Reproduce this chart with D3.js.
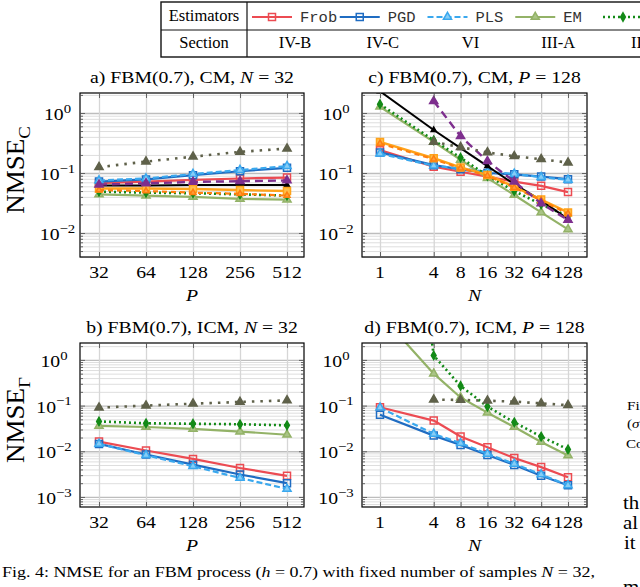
<!DOCTYPE html>
<html>
<head>
<meta charset="utf-8">
<script src="https://cdn.jsdelivr.net/npm/d3@7/dist/d3.min.js"></script>
<style>
  body { margin: 0; background: #fff; }
  svg { display: block; }
</style>
</head>
<body>
<div id="chart"></div>
<script>
// ---------------------------------------------------------------------------
// DATA
// ---------------------------------------------------------------------------
const pVals  = [32, 64, 128, 256, 512];
const nVals  = [1, 4, 8, 16, 32, 64, 128];
const nValsD = [1, 2, 4, 8, 16, 32, 64, 128];

// a) FBM(0.7), CM, N = 32   (x = P)
const frobA   = [0.068, 0.072, 0.077, 0.081, 0.084];
const pgdA    = [0.072, 0.078, 0.092, 0.107, 0.122];
const plsA    = [0.075, 0.081, 0.096, 0.112, 0.130];
const emA     = [0.044, 0.042, 0.040, 0.037, 0.036];
const diagA   = [0.049, 0.047, 0.046, 0.044, 0.042];
const blackA  = [0.062, 0.062, 0.063, 0.063, 0.063];
const orangeA = [0.055, 0.055, 0.054, 0.052, 0.050];
const orDashA = [0.052, 0.050, 0.047, 0.045, 0.042];
const purpleA = [0.064, 0.067, 0.071, 0.073, 0.075];
const oliveA  = [0.125, 0.155, 0.187, 0.225, 0.255];

// c) FBM(0.7), CM, P = 128   (x = N)
const frobC   = [0.24, 0.127, 0.105, 0.087, 0.072, 0.061, 0.048];
const pgdC    = [0.22, 0.135, 0.115, 0.100, 0.095, 0.087, 0.079];
const plsC    = [0.21, 0.132, 0.120, 0.104, 0.097, 0.085, 0.077];
const emC     = [1.27, 0.33, 0.166, 0.082, 0.043, 0.022, 0.0115];
const diagC   = [1.40, 0.35, 0.18, 0.090, 0.050, 0.030, 0.019];
const blackC  = [2.3, 0.52, 0.26, 0.13, 0.065, 0.035, 0.017];
const orangeC = [0.33, 0.176, 0.124, 0.093, 0.059, 0.036, 0.022];
const orDashC = [0.31, 0.170, 0.120, 0.090, 0.057, 0.035, 0.021];
const purpleC = [null, 1.57, 0.41, 0.157, 0.072, 0.031, 0.0165];
const oliveC  = [null, 0.33, 0.27, 0.22, 0.19, 0.17, 0.149];

// b) FBM(0.7), ICM, N = 32   (x = P)
const frobB   = [0.0163, 0.0104, 0.0068, 0.0043, 0.0029];
const pgdB    = [0.0145, 0.0085, 0.0051, 0.0031, 0.0020];
const plsB    = [0.0145, 0.0082, 0.0047, 0.0026, 0.0015];
const emB     = [0.036, 0.034, 0.031, 0.027, 0.023];
const diagB   = [0.045, 0.041, 0.040, 0.039, 0.037];
const oliveB  = [0.090, 0.100, 0.110, 0.120, 0.130];

// d) FBM(0.7), ICM, P = 128   (x = N, N = 2 only reached by the steep curves)
const frobD   = [0.092, null, 0.047, 0.021, 0.0123, 0.0071, 0.0045, 0.0027];
const pgdD    = [0.063, null, 0.022, 0.0138, 0.0083, 0.0050, 0.0029, 0.0018];
const plsD    = [0.090, null, 0.024, 0.015, 0.0088, 0.0053, 0.0031, 0.0018];
const emD     = [10, null, 0.50, 0.15, 0.070, 0.034, 0.016, 0.0081];
const diagD   = [null, 30000, 1.25, 0.27, 0.095, 0.043, 0.021, 0.011];
const oliveD  = [null, null, 0.135, 0.133, 0.128, 0.122, 0.112, 0.102];

// legend table
const legendNames = ["Frob", "PGD", "PLS", "EM"];
const legendKeys  = ["frob", "pgd", "pls", "em", "diag"];
const sections    = ["IV-B", "IV-C", "VI", "III-A", "II"];

// ---------------------------------------------------------------------------
// STYLES
// ---------------------------------------------------------------------------
const style = {
  frob:   { color: "#ec4b52", dash: null,    lw: 2.2, mark: "square",   fill: "none",    size: 7 },
  pgd:    { color: "#1f6cc2", dash: null,    lw: 2.2, mark: "square",   fill: "none",    size: 7 },
  pls:    { color: "#3aa8ee", dash: "6,3",   lw: 2.2, mark: "triangle", fill: "#86cdf6", size: 8 },
  em:     { color: "#93b267", dash: null,    lw: 2.2, mark: "triangle", fill: "#a9c485", size: 8 },
  diag:   { color: "#138a17", dash: "2,3",   lw: 2.6, mark: "diamond",  fill: "#138a17", size: 6 },
  black:  { color: "#000000", dash: null,    lw: 2.0, mark: "triangle", fill: "#000",    size: 5 },
  orange: { color: "#ffa31a", dash: null,    lw: 2.4, mark: "square",   fill: "#ffc04d", size: 7 },
  orDash: { color: "#ff7f0e", dash: "5,4",   lw: 2.2, mark: "triangle", fill: "#ff9d3c", size: 6 },
  purple: { color: "#7e2f8e", dash: "8,5",   lw: 2.4, mark: "triangle", fill: "#7e2f8e", size: 8 },
  olive:  { color: "#5f614a", dash: "2.5,6", lw: 2.6, mark: "triangle", fill: "#5f614a", size: 8 }
};

const SERIF = "'Liberation Serif', 'DejaVu Serif', serif";
const MONO  = "'Liberation Mono', 'DejaVu Sans Mono', monospace";
const SX = 1.16; // the picture is a little wider than tall

const W = 640, H = 587;
const svg = d3.select("#chart").append("svg")
  .attr("width", W).attr("height", H)
  .attr("viewBox", `0 0 ${W} ${H}`);
svg.append("rect").attr("width", W).attr("height", H).attr("fill", "#fff");

// text helper: parts are strings or [text, "it" | "sup" | "sub"]
function stext(parent, x, y, size, anchor, parts, opts = {}) {
  const sx = opts.sx == null ? SX : opts.sx;
  const rot = opts.rotate ? ` rotate(${opts.rotate})` : "";
  const g = parent.append("g").attr("transform", `translate(${x},${y}) scale(${sx},1)${rot}`);
  const t = g.append("text")
    .attr("font-family", opts.family || SERIF)
    .attr("font-size", size)
    .attr("text-anchor", anchor)
    .attr("fill", opts.color || "#000");
  const small = opts.small || 0.7;
  parts.forEach(pt => {
    const [s, k] = typeof pt === "string" ? [pt, ""] : pt;
    const ts = t.append("tspan").text(s);
    if (k === "it") ts.attr("font-style", "italic");
    if (k === "sup") ts.attr("font-size", size * small).attr("dy", -size * 0.42);
    if (k === "sub") ts.attr("font-size", size * small).attr("dy", size * 0.25);
  });
  return t;
}

function symbolFor(s) {
  const type = s.mark === "square" ? d3.symbolSquare
    : s.mark === "diamond" ? d3.symbolDiamond : d3.symbolTriangle;
  const area = s.mark === "triangle" ? s.size * s.size * 0.45
    : s.mark === "diamond" ? s.size * s.size * 0.55 : s.size * s.size;
  return d3.symbol().type(type).size(area)();
}

let clipId = 0;
function drawPanel(p) {
  const { L, R, T, B } = p;
  const g = svg.append("g");

  const x = d3.scaleLog().base(2)
    .domain([p.xVals[0], p.xVals[p.xVals.length - 1]])
    .range([L + p.padL, R - p.padR]);
  const y = d3.scaleLog().domain(p.yDomain).range([B, T]);

  const e0 = Math.floor(Math.log10(p.yDomain[0])), e1 = Math.ceil(Math.log10(p.yDomain[1]));
  const minors = [], majors = [];
  for (let e = e0; e <= e1; e++) {
    for (let m = 1; m <= 9; m++) {
      const v = m * Math.pow(10, e);
      if (v < p.yDomain[0] || v > p.yDomain[1]) continue;
      (m === 1 ? majors : minors).push(v);
    }
  }

  // grid
  const gridStyle = (sel, col, w) => {
    sel.select(".domain").remove();
    sel.selectAll("line").attr("stroke", col).attr("stroke-width", w);
  };
  g.append("g").attr("transform", `translate(${L},0)`)
    .call(d3.axisLeft(y).tickValues(minors).tickSize(-(R - L)).tickFormat(""))
    .call(s => gridStyle(s, "#dedede", 1));
  g.append("g").attr("transform", `translate(${L},0)`)
    .call(d3.axisLeft(y).tickValues(majors).tickSize(-(R - L)).tickFormat(""))
    .call(s => gridStyle(s, "#bdbdbd", 1.3));
  g.append("g").attr("transform", `translate(0,${B})`)
    .call(d3.axisBottom(x).tickValues(p.xTicks).tickSize(-(B - T)).tickFormat(""))
    .call(s => gridStyle(s, "#d6d6d6", 1.3));

  // series
  const cid = "clip" + (clipId++);
  g.append("clipPath").attr("id", cid)
    .append("rect").attr("x", L).attr("y", T).attr("width", R - L).attr("height", B - T);
  const plot = g.append("g").attr("clip-path", `url(#${cid})`);

  p.series.forEach(([key, vals]) => {
    const s = style[key];
    const pts = vals.map((v, i) => ({ x: p.xVals[i], v })).filter(d => d.v != null);
    plot.append("path")
      .datum(pts)
      .attr("fill", "none")
      .attr("stroke", s.color)
      .attr("stroke-width", s.lw)
      .attr("stroke-dasharray", s.dash)
      .attr("stroke-linejoin", "round")
      .attr("d", d3.line().x(d => x(d.x)).y(d => y(d.v)));
    plot.selectAll(null).data(pts).enter().append("path")
      .attr("transform", d => `translate(${x(d.x)},${y(d.v)})`)
      .attr("d", symbolFor(s))
      .attr("fill", s.fill)
      .attr("stroke", s.color)
      .attr("stroke-width", 1.5);
  });

  // frame + inward ticks
  g.append("rect").attr("x", L).attr("y", T).attr("width", R - L).attr("height", B - T)
    .attr("fill", "none").attr("stroke", "#000").attr("stroke-width", 1.2);
  const tickStyle = sel => {
    sel.select(".domain").remove();
    sel.selectAll("line").attr("stroke", "#555").attr("stroke-width", 0.9);
  };
  g.append("g").attr("transform", `translate(${L},0)`)
    .call(d3.axisLeft(y).tickValues(minors).tickSize(-3).tickFormat("")).call(tickStyle);
  g.append("g").attr("transform", `translate(${L},0)`)
    .call(d3.axisLeft(y).tickValues(majors).tickSize(-5).tickFormat("")).call(tickStyle);
  g.append("g").attr("transform", `translate(${R},0)`)
    .call(d3.axisRight(y).tickValues(minors).tickSize(-3).tickFormat("")).call(tickStyle);
  g.append("g").attr("transform", `translate(${R},0)`)
    .call(d3.axisRight(y).tickValues(majors).tickSize(-5).tickFormat("")).call(tickStyle);
  g.append("g").attr("transform", `translate(0,${B})`)
    .call(d3.axisBottom(x).tickValues(p.xTicks).tickSize(-5).tickFormat("")).call(tickStyle);
  g.append("g").attr("transform", `translate(0,${T})`)
    .call(d3.axisTop(x).tickValues(p.xTicks).tickSize(-5).tickFormat("")).call(tickStyle);

  // tick labels
  p.xTicks.forEach(v => stext(g, x(v), B + 21, 17, "middle", [String(v)]));
  majors.forEach(v => {
    const e = Math.round(Math.log10(v));
    stext(g, L - p.yLabOff, y(v) + 7, 17, "middle",
      ["10", [e < 0 ? "\u2212" + (-e) : String(e), "sup"]], { small: 0.75 });
  });

  // title and axis labels
  stext(g, (L + R) / 2, T - 10, 17, "middle", p.title);
  stext(g, (L + R) / 2, B + 44, 17, "middle", [[p.xLabel, "it"]]);
  if (p.yLabel) {
    stext(g, 24, (T + B) / 2 - 5, 27, "middle", p.yLabel, { rotate: -90, sx: 0.9 });
  }
}

const topY = [Math.pow(10, -2.4), Math.pow(10, 0.333)];
const botY = [Math.pow(10, -3.22), Math.pow(10, 0.37)];

drawPanel({
  L: 80, R: 304, T: 93, B: 257, padL: 19, padR: 17, yLabOff: 22.5,
  xVals: pVals, xTicks: pVals, yDomain: topY,
  title: ["a) FBM(0.7), CM, ", ["N", "it"], " = 32"],
  xLabel: "P", yLabel: ["NMSE", ["C", "sub"]],
  series: [["frob", frobA], ["pgd", pgdA], ["pls", plsA], ["em", emA], ["diag", diagA],
           ["black", blackA], ["orange", orangeA], ["orDash", orDashA],
           ["purple", purpleA], ["olive", oliveA]]
});
drawPanel({
  L: 362, R: 587, T: 93, B: 257, padL: 18, padR: 19, yLabOff: 26,
  xVals: nVals, xTicks: nVals, yDomain: topY,
  title: ["c) FBM(0.7), CM, ", ["P", "it"], " = 128"],
  xLabel: "N",
  series: [["frob", frobC], ["pgd", pgdC], ["pls", plsC], ["em", emC], ["diag", diagC],
           ["black", blackC], ["orange", orangeC], ["orDash", orDashC],
           ["purple", purpleC], ["olive", oliveC]]
});
drawPanel({
  L: 80, R: 304, T: 343, B: 507, padL: 19, padR: 17, yLabOff: 26,
  xVals: pVals, xTicks: pVals, yDomain: botY,
  title: ["b) FBM(0.7), ICM, ", ["N", "it"], " = 32"],
  xLabel: "P", yLabel: ["NMSE", ["\u0393", "sub"]],
  series: [["frob", frobB], ["pgd", pgdB], ["pls", plsB], ["em", emB], ["diag", diagB],
           ["olive", oliveB]]
});
drawPanel({
  L: 362, R: 587, T: 343, B: 507, padL: 18, padR: 19, yLabOff: 26,
  xVals: nValsD, xTicks: nVals, yDomain: botY,
  title: ["d) FBM(0.7), ICM, ", ["P", "it"], " = 128"],
  xLabel: "N",
  series: [["frob", frobD], ["pgd", pgdD], ["pls", plsD], ["em", emD], ["diag", diagD],
           ["olive", oliveD]]
});

// ---------------------------------------------------------------------------
// Legend table (cut by the right edge of the picture)
// ---------------------------------------------------------------------------
const leg = svg.append("g");
leg.append("rect").attr("x", 161).attr("y", 2).attr("width", 520).attr("height", 55)
  .attr("fill", "#fff").attr("stroke", "#111").attr("stroke-width", 1.4);
leg.append("line").attr("x1", 247).attr("x2", 247).attr("y1", 2).attr("y2", 57)
  .attr("stroke", "#111").attr("stroke-width", 1.2);
leg.append("line").attr("x1", 161).attr("x2", 681).attr("y1", 30).attr("y2", 30)
  .attr("stroke", "#111").attr("stroke-width", 1);
stext(leg, 204, 21, 16.5, "middle", ["Estimators"], { sx: 1 });
stext(leg, 204, 48, 16.5, "middle", ["Section"], { sx: 1 });

const legX = d3.scalePoint().domain(legendKeys).range([272, 623]);
legendKeys.forEach((k, i) => {
  const s = style[k], cx = legX(k);
  leg.append("line").attr("x1", cx - 20).attr("x2", cx + 20).attr("y1", 17).attr("y2", 17)
    .attr("stroke", s.color).attr("stroke-width", s.lw).attr("stroke-dasharray", s.dash);
  leg.append("path").attr("transform", `translate(${cx},17)`).attr("d", symbolFor(s))
    .attr("fill", s.fill).attr("stroke", s.color).attr("stroke-width", 1.5);
  if (legendNames[i]) stext(leg, cx + 28, 22, 15.5, "start", [legendNames[i]], { sx: 1, family: MONO, color: "#333" });
  if (i < 4) stext(leg, cx + 23, 48, 16.5, "middle", [sections[i]], { sx: 1 });
  else stext(leg, 631, 48, 16.5, "start", [sections[i]], { sx: 1 });
});

// ---------------------------------------------------------------------------
// Caption and the edge of the neighbouring column
// ---------------------------------------------------------------------------
stext(svg, 2, 577, 15.5, "start",
  ["Fig. 4: NMSE for an FBM process (", ["h", "it"], " = 0.7) with fixed number of samples ", ["N", "it"], " = 32,"]);
stext(svg, 627, 410, 13, "start", ["Fi"]);
stext(svg, 627, 428, 13, "start", ["(", ["\u03c3", "it"]]);
stext(svg, 626, 448, 13, "start", ["Co"]);
stext(svg, 623, 509, 18, "start", ["th"]);
stext(svg, 623, 529, 18, "start", ["al"]);
stext(svg, 624, 549, 18, "start", ["it"]);
stext(svg, 623, 593, 18, "start", ["m"]);
</script>
</body>
</html>
